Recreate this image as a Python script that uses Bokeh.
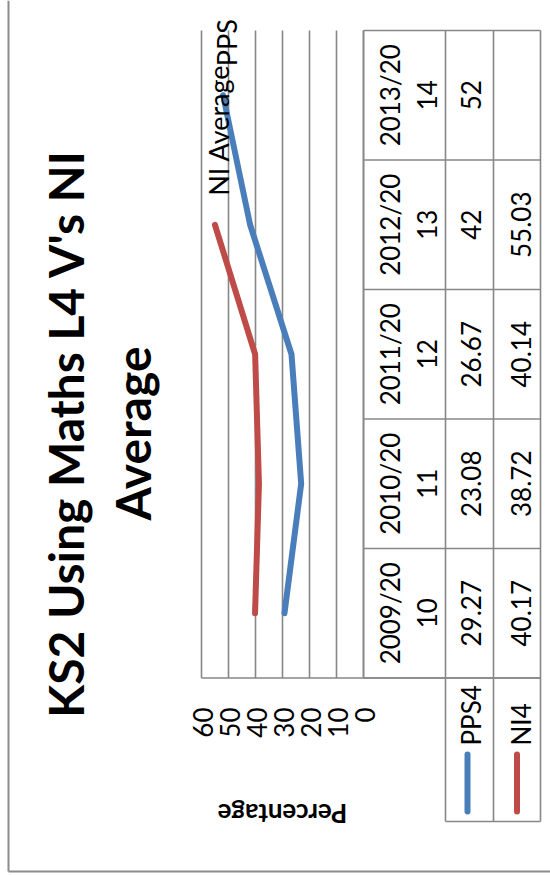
import numpy as np
from bokeh.plotting import figure
from bokeh.models import Range1d
from bokeh.core.properties import value
from bokeh.embed import file_html
from bokeh.resources import INLINE

# ---------------- data ----------------
categories = ["2009/2010", "2010/2011", "2011/2012", "2012/2013", "2013/2014"]
pps4 = [29.27, 23.08, 26.67, 42, 52]
ni4 = [40.17, 38.72, 40.14, 55.03, np.nan]
series_names = ["PPS4", "NI4"]
label_names = ["PPS", "NI Average"]
ticks = [0, 10, 20, 30, 40, 50, 60]
title_lines = ["KS2 Using Maths L4 V's NI", "Average"]
axis_title = "Percentage"

# ---------------- layout (pixels) ----------------
W, H = 550, 875
X0_PX = 363.0        # screen x of value 0
PX_PER_UNIT = 2.7    # pixels per percentage unit
CAT0_PX = 612.75     # screen y of first category centre
CAT_STEP = 129.5     # pixels between categories
FONT = value("Lato")
GRID = "#878787"
BLUE = "#4A7EBB"
RED = "#BE4B48"


def fx(px):
    return (X0_PX - px) / PX_PER_UNIT


def fy(py):
    return (CAT0_PX - py) / CAT_STEP


p = figure(width=W, height=H,
           x_range=Range1d(fx(0), fx(W)), y_range=Range1d(fy(H), fy(0)),
           x_axis_location=None, y_axis_location=None,
           output_backend="svg", toolbar_location=None,
           min_border=0, outline_line_color=None)
p.grid.visible = False
p.background_fill_color = "white"
p.border_fill_color = "white"

n = len(categories)
idx = list(range(n))
top_y = fy(30)
bot_y = fy(677.5)
max_v = max(ticks)

# chart outer border
p.segment(x0=[fx(8), fx(8)], y0=[fy(0), fy(871)], x1=[fx(8), fx(W)], y1=[fy(871), fy(871)],
          line_color="#8c8c8c", line_width=2)

# vertical gridlines at ticks
p.segment(x0=ticks, y0=[bot_y] * len(ticks), x1=ticks, y1=[top_y] * len(ticks),
          line_color=GRID, line_width=1.6)
# category axis line
p.segment(x0=[max_v], y0=[bot_y], x1=[fx(540)], y1=[bot_y], line_color=GRID, line_width=1.6)

# tick labels
p.text(x=ticks, y=[fy(707)] * len(ticks), text=[str(t) for t in ticks], angle=np.pi / 2,
       text_align="right", text_baseline="middle", text_font=FONT, text_font_size="26px",
       text_color="black", x_offset=1.5)

# axis title
p.text(x=[sum(ticks) / len(ticks)], y=[fy(813)], text=[axis_title], angle=np.pi,
       text_align="center", text_baseline="middle", text_font=FONT, text_font_size="26px",
       text_font_style="bold", text_color="black")

# title
p.text(x=[fx(65), fx(131.5)], y=[fy(433), fy(433)], text=title_lines, angle=np.pi / 2,
       text_align="center", text_baseline="middle", text_font=FONT, text_font_size="48px",
       text_font_style="bold", text_color="black")

# data table
col_px = [363, 445, 493, 540]
row_px = [30 + CAT_STEP * k for k in range(n + 1)]
p.segment(x0=[fx(c) for c in col_px], y0=[top_y] * 4, x1=[fx(c) for c in col_px], y1=[bot_y] * 4,
          line_color=GRID, line_width=1.6)
p.segment(x0=[fx(363)] * len(row_px), y0=[fy(r) for r in row_px],
          x1=[fx(540)] * len(row_px), y1=[fy(r) for r in row_px],
          line_color=GRID, line_width=1.6)
# legend key box
p.segment(x0=[fx(445), fx(493), fx(540), fx(445)], y0=[bot_y, bot_y, bot_y, fy(821)],
          x1=[fx(445), fx(493), fx(540), fx(540)], y1=[fy(821), fy(821), fy(821), fy(821)],
          line_color=GRID, line_width=1.6)

# category labels (wrapped)
p.text(x=[fx(389)] * n, y=idx, text=[c[:7] for c in categories], angle=np.pi / 2,
       text_align="center", text_baseline="middle", text_font=FONT, text_font_size="26px",
       text_color="black")
p.text(x=[fx(426)] * n, y=idx, text=[c[7:] for c in categories], angle=np.pi / 2,
       text_align="center", text_baseline="middle", text_font=FONT, text_font_size="26px",
       text_color="black")


def fmt(v):
    if v is None or (isinstance(v, float) and np.isnan(v)):
        return ""
    return ("%g" % v) if float(v).is_integer() else ("%.2f" % v)


series = [(pps4, BLUE, 470.5), (ni4, RED, 520)]
for k, (vals, col, cx) in enumerate(series):
    p.text(x=[fx(cx)] * n, y=idx, text=[fmt(v) for v in vals], angle=np.pi / 2,
           text_align="center", text_baseline="middle", text_font=FONT, text_font_size="26px",
           text_color="black")
    # legend
    p.text(x=[fx(cx)], y=[fy(745)], text=[series_names[k]], angle=np.pi / 2,
           text_align="left", text_baseline="middle", text_font=FONT, text_font_size="26px",
           text_color="black")
    p.segment(x0=[fx(cx - 3.5)], y0=[fy(754)], x1=[fx(cx - 3.5)], y1=[fy(811)],
              line_color=col, line_width=6, line_cap="round")
    # series line
    p.line(x=vals, y=idx, line_color=col, line_width=6, line_join="round", line_cap="round")
    # series name label at last valid point
    valid = [i for i, v in enumerate(vals) if not np.isnan(v)]
    last = valid[-1]
    p.text(x=[vals[last]], y=[last], text=[label_names[k]], angle=np.pi / 2,
           text_align="left", text_baseline="middle", text_font=FONT, text_font_size="27px",
           text_color="black", x_offset=3.5, y_offset=-29)

open("out.html", "w").write(file_html(p, INLINE))
